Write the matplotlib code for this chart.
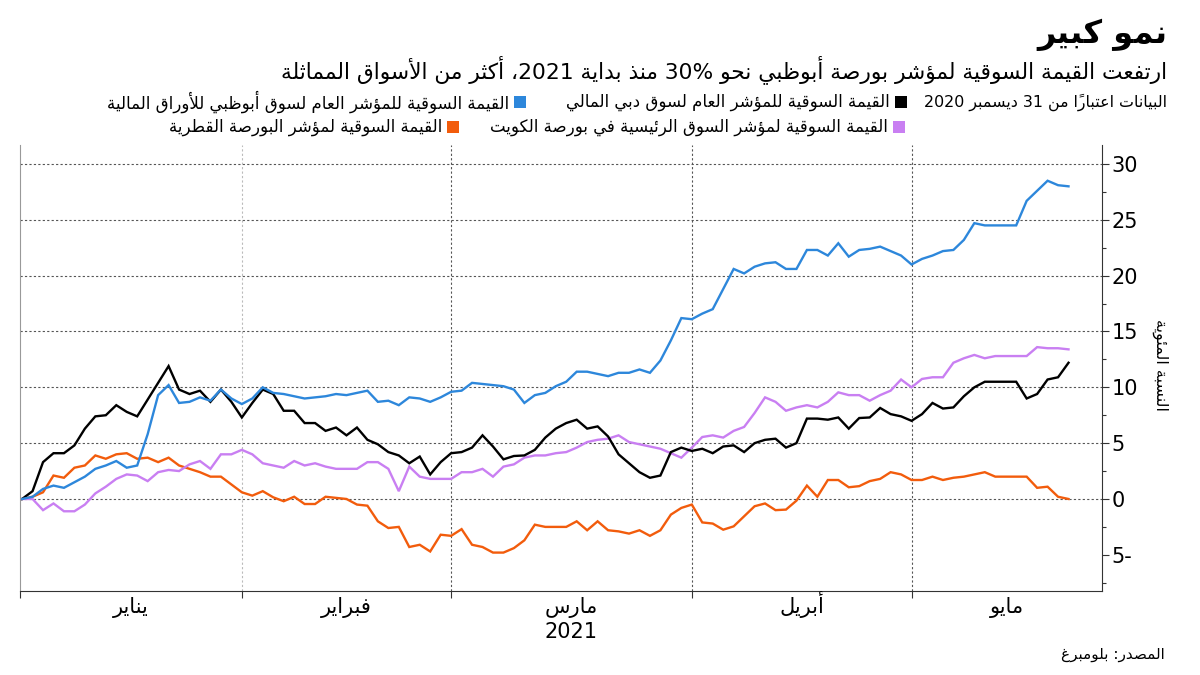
import re
import matplotlib
matplotlib.use('Agg')
import matplotlib.pyplot as plt
from matplotlib.patches import Rectangle
from matplotlib.ticker import FuncFormatter, FixedLocator
import numpy as np

plt.rcParams['font.family'] = ['DejaVu Sans']

# trading-day series, % change since 31 Dec 2020
abu_dhabi = [0, 0.2, 0.9, 1.2, 1.0, 1.5, 2.0, 2.7, 3.0, 3.4, 2.8, 3.0, 5.8, 9.3, 10.2, 8.6, 8.7, 9.1, 8.8, 9.8, 9.0, 8.5,
             9.0, 10.0, 9.5, 9.4, 9.2, 9.0, 9.1, 9.2, 9.4, 9.3, 9.5, 9.7, 8.7, 8.8, 8.4, 9.1, 9.0, 8.7, 9.1, 9.6, 9.7,
             10.4, 10.3, 10.2, 10.1, 9.8, 8.6, 9.3, 9.5, 10.1, 10.5, 11.4, 11.4, 11.2, 11.0, 11.3, 11.3, 11.6, 11.3, 12.4, 14.2, 16.2,
             16.1, 16.6, 17.0, 18.8, 20.6, 20.2, 20.8, 21.1, 21.2, 20.6, 20.6, 22.3, 22.3, 21.8, 22.9, 21.7, 22.3, 22.4, 22.6, 22.2, 21.8,
             21.0, 21.5, 21.8, 22.2, 22.3, 23.2, 24.7, 24.5, 24.5, 24.5, 24.5, 26.7, 27.6, 28.5, 28.1, 28.0]
dubai = [0, 0.7, 3.3, 4.1, 4.1, 4.8, 6.3, 7.4, 7.5, 8.4, 7.8, 7.4, 8.9, 10.4, 11.9, 9.8, 9.4, 9.7, 8.7, 9.8, 8.7, 7.3,
         8.6, 9.8, 9.4, 7.9, 7.9, 6.8, 6.8, 6.1, 6.4, 5.7, 6.4, 5.3, 4.9, 4.2, 3.9, 3.2, 3.8, 2.2, 3.3, 4.1, 4.2,
         4.6, 5.7, 4.7, 3.55, 3.85, 3.9, 4.4, 5.5, 6.3, 6.8, 7.1, 6.3, 6.5, 5.6, 4.0, 3.2, 2.4, 1.9, 2.1, 4.2, 4.6,
         4.3, 4.5, 4.1, 4.7, 4.8, 4.2, 5.0, 5.3, 5.4, 4.6, 5.0, 7.2, 7.2, 7.1, 7.3, 6.3, 7.25, 7.3, 8.15, 7.6, 7.4,
         7.0, 7.6, 8.6, 8.1, 8.2, 9.2, 10.0, 10.5, 10.5, 10.5, 10.5, 9.0, 9.4, 10.7, 10.9, 12.2]
kuwait = [0, 0, -1.0, -0.4, -1.1, -1.1, -0.5, 0.5, 1.1, 1.8, 2.2, 2.1, 1.6, 2.4, 2.6, 2.5, 3.1, 3.4, 2.7, 4.0, 4.0, 4.4,
          4.0, 3.2, 3.0, 2.8, 3.4, 3.0, 3.2, 2.9, 2.7, 2.7, 2.7, 3.3, 3.3, 2.7, 0.7, 2.9, 2.0, 1.8, 1.8, 1.8, 2.4,
          2.4, 2.7, 2.0, 2.9, 3.1, 3.7, 3.9, 3.9, 4.1, 4.2, 4.6, 5.1, 5.3, 5.4, 5.7, 5.1, 4.9, 4.7, 4.5, 4.1, 3.7,
          4.6, 5.55, 5.7, 5.5, 6.1, 6.45, 7.7, 9.1, 8.7, 7.9, 8.2, 8.4, 8.2, 8.7, 9.55, 9.3, 9.3, 8.8, 9.3, 9.7, 10.7,
          10.0, 10.75, 10.9, 10.9, 12.2, 12.6, 12.9, 12.6, 12.8, 12.8, 12.8, 12.8, 13.6, 13.5, 13.5, 13.4]
qatar = [0, 0.2, 0.6, 2.1, 1.9, 2.8, 3.0, 3.9, 3.6, 4.0, 4.1, 3.6, 3.7, 3.3, 3.7, 3.0, 2.7, 2.4, 2.0, 2.0, 1.3, 0.6,
         0.3, 0.7, 0.15, -0.2, 0.2, -0.45, -0.45, 0.2, 0.1, 0.0, -0.5, -0.6, -2.0, -2.6, -2.5, -4.3, -4.1, -4.7, -3.2, -3.3, -2.7,
         -4.1, -4.3, -4.8, -4.8, -4.4, -3.7, -2.3, -2.5, -2.5, -2.5, -2.0, -2.8, -2.0, -2.8, -2.9, -3.1, -2.8, -3.3, -2.8, -1.4, -0.8,
         -0.5, -2.1, -2.2, -2.75, -2.45, -1.55, -0.65, -0.4, -1.0, -0.95, -0.15, 1.2, 0.2, 1.7, 1.7, 1.05, 1.15, 1.6, 1.8, 2.4, 2.2,
         1.7, 1.7, 2.0, 1.7, 1.9, 2.0, 2.2, 2.4, 2.0, 2.0, 2.0, 2.0, 1.0, 1.1, 0.2, 0.0]

months = ['يناير', 'فبراير', 'مارس', 'أبريل', 'مايو']
month_starts = [0, 21, 41, 64, 85]   # trading-day index of each month start
yticks = [-5, 0, 5, 10, 15, 20, 25, 30]

title = 'نمو كبير'
subtitle = 'ارتفعت القيمة السوقية لمؤشر بورصة أبوظبي نحو 30% منذ بداية 2021، أكثر من الأسواق المماثلة'
note = 'البيانات اعتباراً من 31 ديسمبر 2020'
names = ['القيمة السوقية للمؤشر العام لسوق أبوظبي للأوراق المالية',
         'القيمة السوقية للمؤشر العام لسوق دبي المالي',
         'القيمة السوقية لمؤشر السوق الرئيسية في بورصة الكويت',
         'القيمة السوقية لمؤشر البورصة القطرية']
colors = ['#2d87db', '#000000', '#c97ff2', '#f25c0c']
ylabel = 'النسبة المئوية'
source = 'المصدر: بلومبرغ'

# --- minimal arabic shaping + visual reordering (matplotlib has no bidi)
DUAL = {'ئ': 0xFE89, 'ب': 0xFE8F, 'ت': 0xFE95, 'ث': 0xFE99, 'ج': 0xFE9D, 'ح': 0xFEA1, 'خ': 0xFEA5,
        'س': 0xFEB1, 'ش': 0xFEB5, 'ص': 0xFEB9, 'ض': 0xFEBD, 'ط': 0xFEC1, 'ظ': 0xFEC5, 'ع': 0xFEC9,
        'غ': 0xFECD, 'ف': 0xFED1, 'ق': 0xFED5, 'ك': 0xFED9, 'ل': 0xFEDD, 'م': 0xFEE1, 'ن': 0xFEE5,
        'ه': 0xFEE9, 'ي': 0xFEF1}
RIGHT = {'آ': 0xFE81, 'أ': 0xFE83, 'ؤ': 0xFE85, 'إ': 0xFE87, 'ا': 0xFE8D, 'ة': 0xFE93, 'د': 0xFEA9,
         'ذ': 0xFEAB, 'ر': 0xFEAD, 'ز': 0xFEAF, 'و': 0xFEED, 'ى': 0xFEEF}
LAMALEF = {'آ': 0xFEF5, 'أ': 0xFEF7, 'إ': 0xFEF9, 'ا': 0xFEFB}

def jtype(c):
    if c in DUAL:
        return 'D'
    if c in RIGHT:
        return 'R'
    if '\u064b' <= c <= '\u0652':
        return 'T'
    return 'U'

def shape(s):
    n = len(s)
    def prev_d(i):
        j = i - 1
        while j >= 0 and jtype(s[j]) == 'T':
            j -= 1
        return j >= 0 and jtype(s[j]) == 'D'
    def next_j(i):
        j = i + 1
        while j < n and jtype(s[j]) == 'T':
            j += 1
        return j < n and jtype(s[j]) in 'DR'
    out = []
    i = 0
    while i < n:
        c = s[i]
        if c == 'ل' and i + 1 < n and s[i + 1] in LAMALEF:
            out.append(chr(LAMALEF[s[i + 1]] + (1 if prev_d(i) else 0)))
            i += 2
            continue
        t = jtype(c)
        if t == 'D':
            p, nx = prev_d(i), next_j(i)
            out.append(chr(DUAL[c] + (3 if p and nx else 1 if p else 2 if nx else 0)))
        elif t == 'R':
            out.append(chr(RIGHT[c] + (1 if prev_d(i) else 0)))
        else:
            out.append(c)
        i += 1
    return ''.join(out)

def ar(s):
    s = shape(s)
    runs = re.findall(r'[0-9%]+|[^0-9%]+', s)
    vis = []
    for r in reversed(runs):
        if r[0] in '0123456789%':
            vis.append(r)
        else:
            vis.append(''.join(reversed(re.findall(r'.[\u064b-\u0652]*', r))))
    return ''.join(vis)

# --- figure
W, H = 1200, 675
fig = plt.figure(figsize=(12, 6.75), dpi=100)
ax = fig.add_axes([20 / W, 1 - 591 / H, (1102 - 20) / W, (591 - 145) / H])

x = np.arange(len(abu_dhabi))
xmin, xmax = -0.2, 103.2
for series, c in zip([qatar, kuwait, dubai, abu_dhabi], [colors[3], colors[2], colors[1], colors[0]]):
    ax.plot(x, series, color=c, lw=1.7, solid_joinstyle='miter')

ax.set_xlim(xmin, xmax)
ax.set_ylim(-8.24, 31.7)

for v in range(0, 31, 5):
    ax.axhline(v, color='#555555', lw=0.8, ls=(0, (2, 2)), zorder=0)
for m, gc in zip(month_starts[1:], ['#bbbbbb', '#555555', '#555555', '#555555']):
    ax.axvline(m, color=gc, lw=0.8, ls=(0, (2, 2)), zorder=0)

ax.spines['top'].set_visible(False)
ax.spines['left'].set_color('#999999')
ax.spines['right'].set_color('#333333')
ax.spines['bottom'].set_color('#333333')

ax.yaxis.tick_right()
ax.set_yticks(yticks)
ax.yaxis.set_minor_locator(FixedLocator([v + 2.5 for v in range(-10, 30, 5)]))
ax.yaxis.set_major_formatter(FuncFormatter(lambda v, p: f'{int(abs(v))}-' if v < 0 else f'{int(v)}'))
ax.tick_params(axis='y', which='major', length=5, width=0.8, color='#333333', labelsize=15, pad=2)
ax.tick_params(axis='y', which='minor', length=3, width=0.8, color='#333333')
ax.tick_params(axis='y', which='both', left=False, right=True)

bounds = [xmin] + month_starts[1:] + [xmax]
ax.set_xticks([xmin] + month_starts[1:])
ax.set_xticklabels([])
ax.tick_params(axis='x', which='major', length=5, width=0.8, color='#333333')
centers = [(a + b) / 2 for a, b in zip(bounds[:-1], bounds[1:])]
for cx, m in zip(centers, months):
    ax.annotate(ar(m), xy=(cx, 0), xycoords=('data', 'axes fraction'),
                xytext=(0, -15.5), textcoords='offset points', ha='center', va='baseline', fontsize=15)
ax.annotate('2021', xy=(centers[2], 0), xycoords=('data', 'axes fraction'),
            xytext=(0, -33.5), textcoords='offset points', ha='center', va='baseline', fontsize=15)

fig.text(1160 / W, 1 - 365 / H, ar(ylabel), rotation=-90, ha='center', va='center', fontsize=11.5)

# header
fig.text(1167 / W, 1 - 35 / H, ar(title), ha='right', va='center', fontsize=23, fontweight='bold')
fig.text(1167 / W, 1 - 70 / H, ar(subtitle), ha='right', va='center', fontsize=15.7)

# legend rows (right to left)
fig.text(1167 / W, 1 - 102 / H, ar(note), ha='right', va='center', fontsize=11.4)
legend_items = [(names[1], colors[1], 907, 102), (names[0], colors[0], 526, 102),
                (names[2], colors[2], 905, 127), (names[3], colors[3], 459, 127)]
for label, c, xr, yc in legend_items:
    fig.add_artist(Rectangle(((xr - 12) / W, 1 - (yc + 6) / H), 12 / W, 12 / H,
                             transform=fig.transFigure, color=c, lw=0))
    fig.text((xr - 17) / W, 1 - yc / H, ar(label), ha='right', va='center', fontsize=12)

fig.text(1165 / W, 1 - 655 / H, ar(source), ha='right', va='center', fontsize=11)

fig.savefig('out.png', dpi=100)
